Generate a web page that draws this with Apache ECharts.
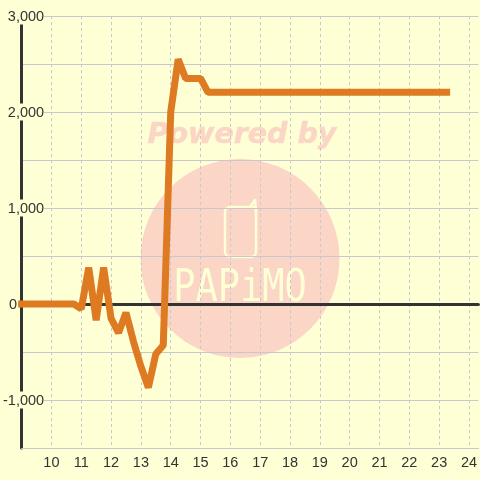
<!DOCTYPE html>
<html><head><meta charset="utf-8">
<style>html,body{margin:0;padding:0;background:#ffffd5}#c{width:480px;height:480px}</style>
<script src="https://cdn.jsdelivr.net/npm/echarts@6/dist/echarts.min.js"></script>
</head><body><div id="c"></div>
<script>
var hours=[9,10.75,11,11.25,11.5,11.75,12,12.25,12.5,12.75,13,13.25,13.5,13.75,14,14.25,14.5,14.75,15,15.25,23.25];
var values=[0,0,-50,380,-170,380,-150,-300,-90,-390,-650,-870,-520,-430,2000,2550,2350,2350,2350,2205,2205];
var yMin=-1500,yMax=3000,yStep=500,labelStep=1000;
var xMin=9,xMax=24.3167,xStep=1;
var bg='#ffffd5',ink='#333333',gridCol='#c8c8cc',wm='#fbd5c5',lineCol='#dd7a22';
function fmt(v){
  if(v===0){return '{t|0}{s|}';}
  return v%labelStep===0?'{t|'+v.toLocaleString('en-US')+'}':'';
}
var chart=echarts.init(document.getElementById('c'),null,{renderer:'canvas'});
chart.setOption({
 animation:false,
 backgroundColor:bg,
 textStyle:{fontFamily:'Liberation Sans'},
 grid:{left:20.5,right:0,top:16,bottom:32,containLabel:false},
 graphic:[
  {type:'circle',z:-10,silent:true,shape:{cx:240,cy:258.5,r:99.5},style:{fill:wm}},
  {type:'text',z:-10,silent:true,x:242,y:136,style:{text:'Powered by',fill:wm,stroke:wm,lineWidth:0.5,font:'italic bold 28.5px "DejaVu Sans"',align:'center',verticalAlign:'middle'}},
  {type:'rect',z:-9,silent:true,shape:{x:225,y:207,width:31,height:50,r:[5,2,5,5]},style:{fill:'none',stroke:bg,lineWidth:2.5}},
  {type:'line',z:-9,silent:true,shape:{x1:250,y1:207,x2:255,y2:200},style:{stroke:bg,lineWidth:2.5,lineCap:'round'}},
  {type:'line',z:-9,silent:true,shape:{x1:255,y1:200,x2:256,y2:212},style:{stroke:bg,lineWidth:2.5,lineCap:'round'}},
  {type:'text',z:-9,silent:true,x:240,y:289,scaleY:1.2,style:{text:'PAPiMO',fill:bg,stroke:wm,lineWidth:0.8,font:'37px "DejaVu Sans Mono"',align:'center',verticalAlign:'middle'}}
 ],
 xAxis:[
  {type:'value',position:'bottom',min:xMin,max:xMax,interval:xStep,
   axisLine:{onZero:false,show:true,lineStyle:{color:gridCol,width:1}},axisTick:{show:false},
   axisLabel:{color:ink,fontSize:14.5,margin:7,showMinLabel:false,showMaxLabel:false,hideOverlap:false,
     formatter:function(v){return (v===xMin||v%1!==0)?'':String(v);}},
   splitLine:{show:true,showMinLine:false,showMaxLine:false,lineStyle:{color:gridCol,width:1,type:[3,3]}}},
  {type:'value',position:'top',min:xMin,max:xMax,interval:xStep,
   axisLine:{onZero:true,show:true,lineStyle:{color:ink,width:3}},axisTick:{show:false},axisLabel:{show:false},splitLine:{show:false}}
 ],
 yAxis:{type:'value',min:yMin,max:yMax,interval:yStep,
   axisLine:{show:true,onZero:false,lineStyle:{color:ink,width:3}},axisTick:{show:false},
   axisLabel:{color:ink,fontSize:14.5,margin:-22.5,align:'right',formatter:fmt,showMinLabel:true,showMaxLabel:true,
     rich:{t:{fontSize:14.5,color:ink,backgroundColor:bg,padding:[2,0,0,0],fontFamily:'Liberation Sans'},s:{width:27}}},
   splitLine:{show:true,lineStyle:{color:gridCol,width:1}}},
 series:[{type:'line',xAxisIndex:0,data:hours.map(function(h,i){return [h,values[i]];}),symbol:'none',smooth:false,clip:false,z:5,
   lineStyle:{color:lineCol,width:7,cap:'square',join:'bevel'}}]
});
</script></body></html>
